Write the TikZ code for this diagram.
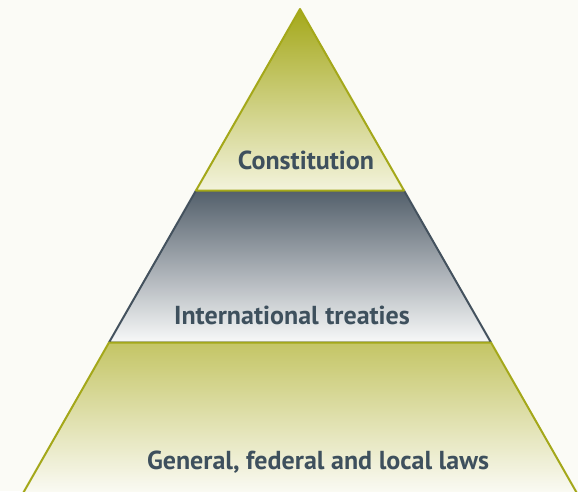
\documentclass[tikz,border=0pt]{standalone}
\usepackage{fontspec}
\setsansfont{PT Sans}
\definecolor{olive}{HTML}{A4A81A}
\definecolor{oliveLight}{HTML}{C4C565}
\definecolor{slate}{HTML}{44525E}
\definecolor{cream}{HTML}{F3F3DC}
\definecolor{paper}{HTML}{FBFBF6}
\definecolor{ink}{HTML}{3E505D}

\begin{document}
\begin{tikzpicture}[x=1pt,y=1pt]
   \tikzset{band/.style 2 args={draw=#1, line width=2pt, line join=round, top color=#2},
            tag/.style={font=\sffamily\bfseries\fontsize{26}{30}\selectfont, text=ink}};

\useasboundingbox (0,0) rectangle (578,491);
\fill[paper] (0,0) rectangle (578,491);
\clip (0,0) rectangle (578,491);

% corners of the layers
\coordinate (apex) at (300,482);
\coordinate (l1) at (196,300.5);
\coordinate (r1) at (404,300.5);
\coordinate (l2) at (109,148.5);
\coordinate (r2) at (491,148.5);
\coordinate (l3) at (22,-4);
\coordinate (r3) at (578,-4);

% middle layer first, so the olive borders sit on top
\path[band={slate}{slate!92!white}, bottom color=white!96!slate] (l1) -- (r1) -- (r2) -- (l2) -- cycle;
\path[band={olive}{olive}, bottom color=cream] (apex) -- (r1) -- (l1) -- cycle;
\path[band={olive}{oliveLight}, bottom color=paper] (l2) -- (r2) -- (r3) -- (l3) -- cycle;

\node[tag] (const) at (306,331) {Constitution};
\node[tag] (treaties) at (292,176) {International treaties};
\node[tag] (laws) at (318,29) {General, federal and local laws};

\end{tikzpicture}
\end{document}
